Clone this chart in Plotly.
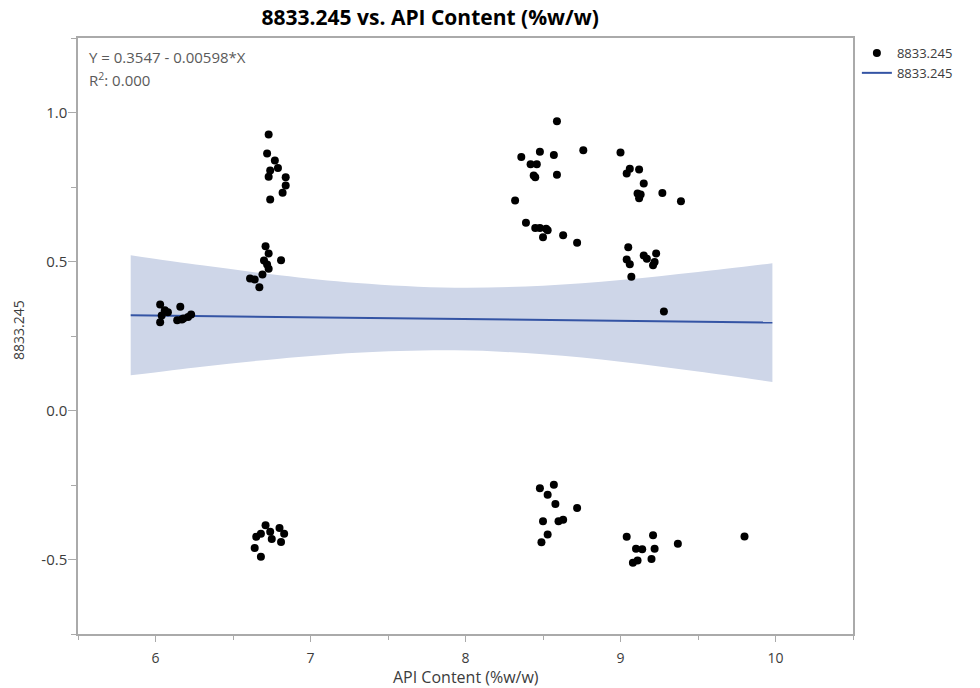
import plotly.graph_objects as go

# ---------------- data ----------------
api_content = [
    6.03, 6.06, 6.16, 6.04, 6.03, 6.14, 6.17, 6.21, 6.23, 6.08, 6.18,
    6.73, 6.72, 6.77, 6.79, 6.74, 6.73, 6.84, 6.84, 6.82, 6.74,
    6.71, 6.73, 6.70, 6.81, 6.72, 6.73, 6.69, 6.61, 6.64, 6.67,
    6.71, 6.80, 6.74, 6.68, 6.65, 6.83, 6.75, 6.81, 6.64, 6.68,
    8.59, 8.36, 8.48, 8.57, 8.42, 8.46, 8.44, 8.45, 8.59, 8.76,
    8.32, 8.39, 8.45, 8.48, 8.52, 8.53, 8.50, 8.63, 8.72,
    8.48, 8.57, 8.53, 8.58, 8.72, 8.50, 8.60, 8.63, 8.53, 8.49,
    9.00, 9.06, 9.04, 9.12, 9.15, 9.11, 9.13, 9.12, 9.27, 9.39,
    9.05, 9.04, 9.06, 9.07, 9.15, 9.17, 9.23, 9.22, 9.21, 9.28,
    9.04, 9.21, 9.10, 9.14, 9.22, 9.37, 9.08, 9.11, 9.20, 9.80,
]
response_8833 = [
    0.356, 0.336, 0.348, 0.319, 0.296, 0.303, 0.305, 0.314, 0.322, 0.330, 0.309,
    0.926, 0.862, 0.839, 0.814, 0.805, 0.784, 0.783, 0.755, 0.731, 0.708,
    0.551, 0.527, 0.503, 0.504, 0.490, 0.476, 0.456, 0.443, 0.440, 0.414,
    -0.385, -0.394, -0.407, -0.414, -0.424, -0.414, -0.431, -0.441, -0.461, -0.491,
    0.971, 0.851, 0.868, 0.857, 0.826, 0.826, 0.789, 0.783, 0.791, 0.873,
    0.705, 0.630, 0.612, 0.612, 0.610, 0.605, 0.581, 0.588, 0.563,
    -0.261, -0.249, -0.283, -0.314, -0.327, -0.372, -0.372, -0.367, -0.416, -0.442,
    0.866, 0.811, 0.795, 0.809, 0.762, 0.728, 0.725, 0.712, 0.730, 0.702,
    0.548, 0.507, 0.491, 0.449, 0.520, 0.509, 0.527, 0.498, 0.487, 0.332,
    -0.424, -0.419, -0.464, -0.466, -0.464, -0.447, -0.511, -0.503, -0.498, -0.423,
]

# regression line (coefficients from the chart text)
intercept = 0.3547
slope = -0.00598
fit_x = [5.84, 9.98]

# confidence band edges
band_x = [5.84, 6.3, 6.8, 7.3, 7.93, 8.5, 9.0, 9.5, 9.98]
band_upper = [0.521, 0.487, 0.454, 0.428, 0.412, 0.419, 0.438, 0.465, 0.494]
band_lower = [0.118, 0.147, 0.174, 0.194, 0.202, 0.189, 0.164, 0.131, 0.096]

x_ticks = [6, 7, 8, 9, 10]
y_ticks = [-0.5, 0.0, 0.5, 1.0]
y_tick_labels = ["-0.5", "0.0", "0.5", "1.0"]

series_name = "8833.245"
title_text = "8833.245 vs. API Content (%w/w)"
x_title = "API Content (%w/w)"
equation_text = "Y = 0.3547 - 0.00598*X"
r2_text = "R<sup>2</sup>: 0.000"

# ---------------- figure ----------------
FONT = "Open Sans, Segoe UI, sans-serif"
BAND = "rgb(206,214,232)"
fig = go.Figure()

fig.add_trace(go.Scatter(
    x=band_x, y=band_lower, mode="lines",
    line=dict(width=0, shape="spline", color=BAND),
    hoverinfo="skip", showlegend=False,
))
fig.add_trace(go.Scatter(
    x=band_x, y=band_upper, mode="lines", fill="tonexty", fillcolor=BAND,
    line=dict(width=0, shape="spline", color=BAND),
    hoverinfo="skip", showlegend=False,
))

fit_y = [intercept + slope * v for v in fit_x]
fig.add_trace(go.Scatter(
    x=fit_x, y=fit_y, mode="lines", name=series_name,
    line=dict(color="rgb(52,84,164)", width=2), legendrank=2,
))

fig.add_trace(go.Scatter(
    x=api_content, y=response_8833, mode="markers", name=series_name,
    marker=dict(color="black", size=8), legendrank=1,
))

axis_line = "rgb(170,170,170)"
PLOT_H = 688 - 38 - 54
fig.update_layout(
    width=980, height=688,
    margin=dict(l=78, r=127, t=38, b=54),
    paper_bgcolor="white", plot_bgcolor="white",
    font=dict(family=FONT, size=14, color="rgb(60,60,60)"),
    title=dict(text="<b>" + title_text + "</b>", x=0.439, xanchor="center",
               y=1 - 18 / 688, yanchor="middle", xref="container", yref="container",
               font=dict(family=FONT, size=21, color="black")),
    showlegend=True,
    legend=dict(x=1.005, y=1.0, xanchor="left", yanchor="top", traceorder="normal",
                font=dict(size=13, color="rgb(60,60,60)"),
                tracegroupgap=0, itemwidth=30, bgcolor="rgba(0,0,0,0)"),
    xaxis=dict(range=[5.5, 10.5], tickvals=x_ticks, ticktext=[str(v) for v in x_ticks],
               showgrid=False, zeroline=False, showline=True, linecolor=axis_line,
               linewidth=1.5, mirror=True, ticks="outside", ticklen=6, tickcolor=axis_line,
               tickfont=dict(size=14), ticklabelstandoff=4, automargin=False,
               minor=dict(dtick=0.5, tick0=5.5, ticks="outside", ticklen=4, tickcolor=axis_line, showgrid=False),
               title=dict(text="")),
    yaxis=dict(range=[-0.75, 1.25], tickvals=y_ticks, ticktext=y_tick_labels,
               showgrid=False, zeroline=False, showline=True, linecolor=axis_line,
               linewidth=1.5, mirror=True, ticks="outside", ticklen=8, tickcolor=axis_line,
               tickfont=dict(size=15), ticklabelstandoff=-2, automargin=False,
               minor=dict(dtick=0.25, tick0=0, ticks="outside", ticklen=5, tickcolor=axis_line, showgrid=False),
               title=dict(text="")),
    annotations=[
        dict(text=series_name, textangle=-90, x=(18 - 78) / 775, y=(634 - 330) / PLOT_H,
             xref="paper", yref="paper", xanchor="center", yanchor="middle", showarrow=False,
             font=dict(size=14, color="rgb(60,60,60)")),
        dict(text=x_title, x=0.5, y=(634 - 677) / PLOT_H,
             xref="paper", yref="paper", xanchor="center", yanchor="middle", showarrow=False,
             font=dict(size=16, color="rgb(60,60,60)")),
        dict(text=equation_text, x=0.012, y=0.968, xref="paper", yref="paper",
             xanchor="left", yanchor="middle", showarrow=False,
             font=dict(size=15, color="rgb(90,90,90)")),
        dict(text=r2_text, x=0.012, y=0.93, xref="paper", yref="paper",
             xanchor="left", yanchor="middle", showarrow=False,
             font=dict(size=15, color="rgb(90,90,90)")),
    ],
)

fig.write_html("out.html")
